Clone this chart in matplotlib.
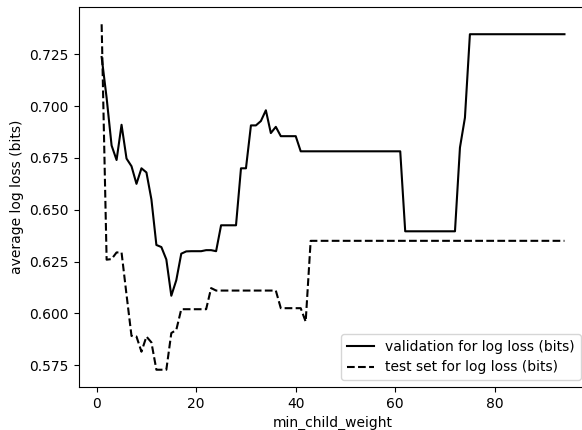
import matplotlib
matplotlib.use("Agg")
import matplotlib.pyplot as plt
import numpy as np

min_child_weight = list(range(1, 95))

validation = (
    [0.7237, 0.704, 0.681, 0.674, 0.691, 0.6747, 0.671, 0.6625, 0.670, 0.668,
     0.655, 0.633, 0.632, 0.626, 0.6085, 0.616, 0.6288, 0.6299, 0.630, 0.630,
     0.630, 0.6305, 0.6305, 0.630, 0.6425, 0.6425, 0.6425, 0.6425, 0.670, 0.670,
     0.6907, 0.6907, 0.6928, 0.698, 0.687, 0.690, 0.6855, 0.6855, 0.6855, 0.6855]
    + [0.6782] * 21
    + [0.6396] * 11
    + [0.680, 0.6944]
    + [0.7347] * 20
)

test = (
    [0.7395, 0.6259, 0.6262, 0.6294, 0.6294, 0.609, 0.5891, 0.5888, 0.5815, 0.5888,
     0.586, 0.5728, 0.5728, 0.5728, 0.5905, 0.592]
    + [0.602] * 6
    + [0.6122]
    + [0.611] * 13
    + [0.6025] * 5
    + [0.596]
    + [0.635] * 52
)

W, H = 582, 430
fig = plt.figure(figsize=(W / 100, H / 100), dpi=100)
left, right, top, bottom = 78.5, 587.6, 7, 387
ax = fig.add_axes([left / W, 1 - bottom / H, (right - left) / W, (bottom - top) / H])

ax.plot(min_child_weight, validation, color="black", linestyle="-", label="validation for log loss (bits)")
ax.plot(min_child_weight, test, color="black", linestyle="--", label="test set for log loss (bits)")
ax.set_xlabel("min_child_weight")
ax.set_ylabel("average log loss (bits)")
ax.legend(loc="lower right")

fig.savefig("out.png", dpi=100)
